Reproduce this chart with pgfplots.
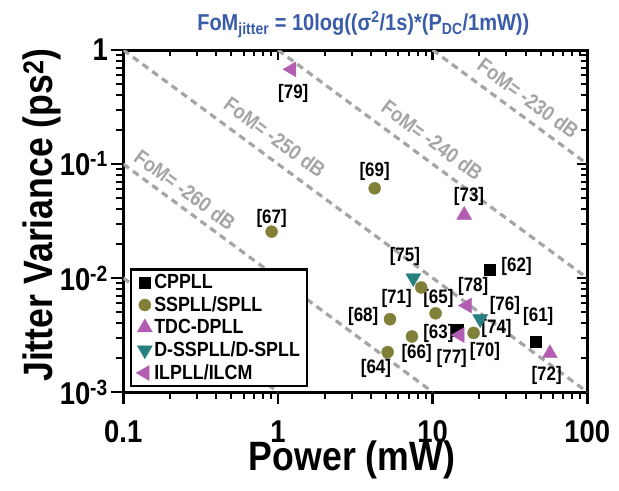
\documentclass[border=0pt]{standalone}
\usepackage{fontspec}
\setmainfont{Liberation Sans}[FakeStretch=0.87]
\usepackage{pgfplots}
\pgfplotsset{compat=1.18}
\definecolor{olivec}{RGB}{128,128,56}
\definecolor{pinkc}{RGB}{178,92,178}
\definecolor{tealc}{RGB}{38,128,128}
\definecolor{grayl}{RGB}{165,165,165}
\definecolor{titleblue}{RGB}{58,92,168}
\newcommand{\fs}[1]{\fontsize{#1bp}{#1bp}\selectfont\bfseries}
\begin{document}
\begin{tikzpicture}
% second axis: inside ticks on top and right
\begin{axis}[
  at={(0,0)}, anchor=south west,
  scale only axis, width=464bp, height=342bp,
  xmode=log, ymode=log,
  xmin=0.1, xmax=100, ymin=0.001, ymax=1,
  xtick={0.1,1,10,100}, ytick={0.001,0.01,0.1,1},
  xtick pos=top, ytick pos=right, tick align=inside,
  xticklabels={}, yticklabels={},
  major tick length=10bp, minor tick length=6bp,
  axis line style={line width=3bp},
  tick style={line width=2.5bp, black},
  minor tick style={line width=2bp},
]
\end{axis}
\begin{axis}[
  at={(0,0)}, anchor=south west,
  scale only axis, width=464bp, height=342bp,
  xmode=log, ymode=log,
  xmin=0.1, xmax=100, ymin=0.001, ymax=1,
  xtick={0.1,1,10,100}, xticklabels={0.1,1,10,100},
  ytick={0.001,0.01,0.1,1},
  yticklabels={10\textsuperscript{-3},10\textsuperscript{-2},10\textsuperscript{-1},1},
  xtick pos=bottom, ytick pos=left, tick align=outside,
  major tick length=12bp, minor tick length=7bp,
  axis line style={line width=3bp},
  tick style={line width=2.5bp, black},
  minor tick style={line width=2bp},
  tick label style={font=\fs{31.5}},
  xticklabel style={yshift=-13bp},
  legend style={at={(rel axis cs:0.0144,0.3617)}, anchor=north west,
    draw=black, line width=2.5bp, font=\fontsize{20.5bp}{22bp}\selectfont\bfseries,
    inner xsep=5bp, inner ysep=3bp, row sep=2.5bp, cells={anchor=west},
    /tikz/every even column/.append style={column sep=4bp}},
  legend image code/.code={\draw[mark repeat=2,mark phase=2,#1] plot coordinates {(0bp,0bp) (9bp,0bp) (18bp,0bp)};},
]
% FoM reference lines
\addplot[forget plot, grayl, line width=3.2bp, dash pattern=on 7bp off 5bp] coordinates {(10,1) (100,0.1)};
\addplot[forget plot, grayl, line width=3.2bp, dash pattern=on 7bp off 5bp] coordinates {(1,1) (100,0.01)};
\addplot[forget plot, grayl, line width=3.2bp, dash pattern=on 7bp off 5bp] coordinates {(0.1,1) (100,0.001)};
\addplot[forget plot, grayl, line width=3.2bp, dash pattern=on 7bp off 5bp] coordinates {(0.1,0.1) (10,0.001)};
\addplot[forget plot, grayl, line width=3.2bp, dash pattern=on 7bp off 5bp] coordinates {(0.1,0.01) (1,0.001)};
% FoM labels
\node[text=grayl, font=\fs{21}, rotate=-36.4] at (axis cs:41.5,0.377) {FoM= -230 dB};
\node[text=grayl, font=\fs{21}, rotate=-36.4] at (axis cs:9.94,0.162) {FoM= -240 dB};
\node[text=grayl, font=\fs{21}, rotate=-36.4] at (axis cs:0.956,0.1715) {FoM= -250 dB};
\node[text=grayl, font=\fs{21}, rotate=-36.4] at (axis cs:0.2506,0.0591) {FoM= -260 dB};
% data
\addplot[only marks, mark=square*, mark size=5.6bp, mark options={draw=black, fill=black, line width=0.4bp}]
  coordinates {(23.4,0.0119) (46.4,0.00276) (14.6,0.00348)};
\addlegendentry{CPPLL}
\addplot[only marks, mark=*, mark size=6bp, mark options={draw=olivec, fill=olivec, line width=0.4bp}]
  coordinates {(0.91,0.0255) (4.22,0.0612) (8.44,0.00826) (10.45,0.0049) (5.30,0.00435) (7.35,0.00307) (5.12,0.00224) (18.4,0.0033)};
\addlegendentry{SSPLL/SPLL}
\addplot[only marks, mark=triangle*, mark size=8.6bp, mark options={draw=pinkc, fill=pinkc, line width=0.4bp}]
  coordinates {(16.0,0.0357) (57.3,0.00218)};
\addlegendentry{TDC-DPLL}
\addplot[only marks, mark=triangle*, mark size=8.6bp, mark options={draw=tealc, fill=tealc, line width=0.4bp, rotate=180}]
  coordinates {(7.50,0.0100) (20.3,0.00437)};
\addlegendentry{D-SSPLL/D-SPLL}
\addplot[only marks, mark=triangle*, mark size=8.6bp, mark options={draw=pinkc, fill=pinkc, line width=0.4bp, rotate=90}]
  coordinates {(1.226,0.677) (16.7,0.00574) (15.0,0.00316)};
\addlegendentry{ILPLL/ILCM}
% data labels
\begin{scope}[every node/.style={font=\fs{19.5}, text=black}]
\node at (axis cs:1.256,0.417) {[79]};
\node at (axis cs:4.22,0.0856) {[69]};
\node at (axis cs:17.2,0.0517) {[73]};
\node at (axis cs:0.91,0.0334) {[67]};
\node at (axis cs:6.62,0.01538) {[75]};
\node at (axis cs:34.9,0.01256) {[62]};
\node at (axis cs:18.3,0.00839) {[78]};
\node at (axis cs:5.85,0.00664) {[71]};
\node at (axis cs:10.9,0.00664) {[65]};
\node at (axis cs:29.3,0.0058) {[76]};
\node at (axis cs:48.2,0.00458) {[61]};
\node at (axis cs:3.56,0.00458) {[68]};
\node at (axis cs:10.9,0.00327) {[63]};
\node at (axis cs:25.9,0.00362) {[74]};
\node at (axis cs:7.88,0.00218) {[66]};
\node at (axis cs:13.3,0.00198) {[77]};
\node at (axis cs:21.8,0.00226) {[70]};
\node at (axis cs:4.30,0.00161) {[64]};
\node at (axis cs:54.6,0.00141) {[72]};
\end{scope}
\end{axis}
\node[anchor=base, text=titleblue, font=\fs{23}] at (240bp,361bp)
  {FoM\textsubscript{jitter} = 10log((σ\textsuperscript{2}/1s)*(P\textsubscript{DC}/1mW))};
\node[anchor=base, font=\fs{41}] at (228.7bp,-78bp) {Power (mW)};
\node[anchor=base, rotate=90, font=\fs{41}] at (-71bp,177bp) {Jitter Variance (ps\textsuperscript{2})};
\pgfresetboundingbox
\path[use as bounding box] (-123.3bp,-99bp) rectangle (495.7bp,392bp);
\end{tikzpicture}
\end{document}
